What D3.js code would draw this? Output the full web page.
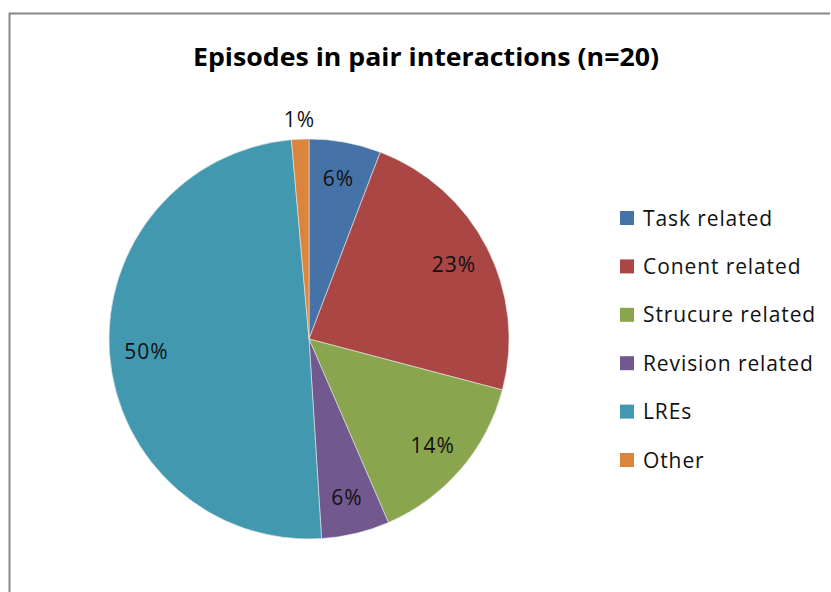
<!DOCTYPE html>
<html>
<head>
<meta charset="utf-8">
<script src="https://cdn.jsdelivr.net/npm/d3@7"></script>
<style>
  body { margin: 0; background: white; }
  text { font-family: "Open Sans", "Noto Sans", sans-serif; }
</style>
</head>
<body>
<div id="chart"></div>
<script>
// values (percent of episodes)
var categories = ["Task related", "Conent related", "Strucure related", "Revision related", "LREs", "Other"];
var values = [5.8, 23.3, 14.4, 5.5, 49.6, 1.4];
var colors = ["#4572A7", "#AA4643", "#89A54E", "#71588F", "#4198AF", "#DB843D"];

var width = 831, height = 592;
var cx = 309, cy = 339, radius = 200;

var svg = d3.select("#chart")
    .append("svg")
    .attr("width", width)
    .attr("height", height);

// chart border (right and bottom run off the picture)
svg.append("path")
    .attr("d", "M9.5," + height + "V13.5H830")
    .attr("fill", "none")
    .attr("stroke", "#878787")
    .attr("stroke-width", 2);

svg.append("text")
    .attr("x", 426)
    .attr("y", 66)
    .attr("text-anchor", "middle")
    .style("font-size", "25px")
    .style("font-weight", "bold")
    .attr("textLength", 466)
    .attr("lengthAdjust", "spacingAndGlyphs")
    .text("Episodes in pair interactions (n=20)");

var data = categories.map(function(c, i) {
    return { name: c, value: values[i], color: colors[i] };
});

var pie = d3.pie().sort(null).value(function(d) { return d.value; });
var arcs = pie(data);

var arc = d3.arc().innerRadius(0).outerRadius(radius);
var inLabel = d3.arc().innerRadius(radius * 0.815).outerRadius(radius * 0.815);
var outLabel = d3.arc().innerRadius(radius + 20).outerRadius(radius + 20);

var g = svg.append("g").attr("transform", "translate(" + cx + "," + cy + ")");

g.selectAll("path.slice")
    .data(arcs)
    .enter().append("path")
    .attr("class", "slice")
    .attr("d", arc)
    .attr("fill", function(d) { return d.data.color; })
    .attr("stroke", "#e8e8e8")
    .attr("stroke-width", 0.6);

g.selectAll("text.lbl")
    .data(arcs)
    .enter().append("text")
    .attr("class", "lbl")
    .attr("transform", function(d) {
        var p = d.data.value < 3 ? outLabel.centroid(d) : inLabel.centroid(d);
        return "translate(" + p[0] + "," + (p[1] + 7.5) + ")";
    })
    .attr("text-anchor", "middle")
    .style("font-size", "21px")
    .style("letter-spacing", "1px")
    .attr("fill", "#111")
    .text(function(d) { return Math.round(d.data.value) + "%"; });

var legend = svg.append("g").attr("transform", "translate(620,218)");
var rowH = 48.4;

var item = legend.selectAll("g")
    .data(data)
    .enter().append("g")
    .attr("transform", function(d, i) { return "translate(0," + (i * rowH) + ")"; });

item.append("rect")
    .attr("x", 0)
    .attr("y", -7)
    .attr("width", 14)
    .attr("height", 14)
    .attr("fill", function(d) { return d.color; });

item.append("text")
    .attr("x", 23)
    .attr("y", 7.5)
    .style("font-size", "21px")
    .style("letter-spacing", "0.9px")
    .attr("fill", "#111")
    .text(function(d) { return d.name; });
</script>
</body>
</html>
